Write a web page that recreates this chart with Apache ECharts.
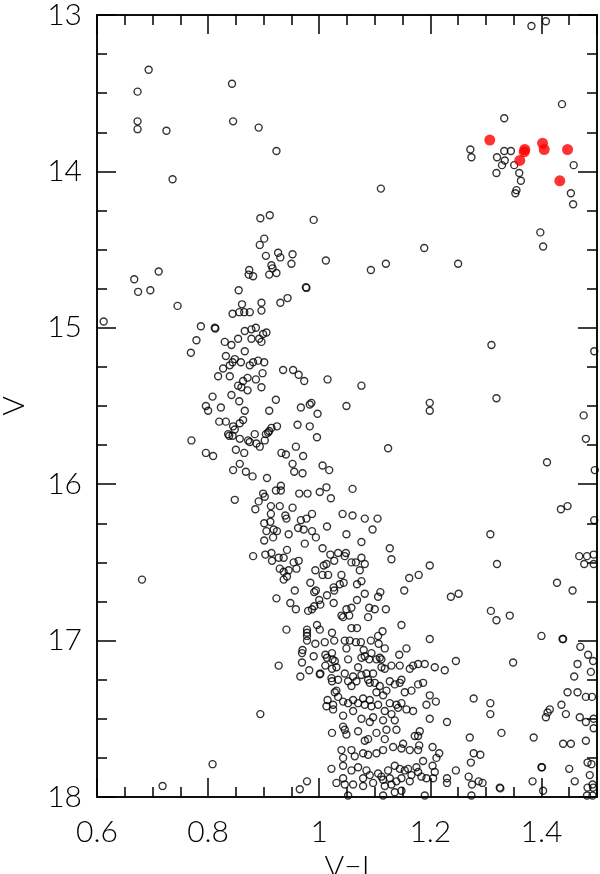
<!DOCTYPE html>
<html><head><meta charset="utf-8">
<script src="https://cdn.jsdelivr.net/npm/echarts@6/dist/echarts.min.js"></script>
<style>html,body{margin:0;padding:0;background:#fff}#c{width:600px;height:874px}</style>
</head><body><div id="c"></div>
<script>
// Open circles: [V-I, V]
const starsTop = [
[0.693,13.35],[0.673,13.49],[0.843,13.44],[0.673,13.68],[0.673,13.73],[0.725,13.74],[0.845,13.68],[0.891,13.72],[0.923,13.87],[0.736,14.05],
[0.894,14.30],[0.911,14.28],[0.990,14.31],[0.901,14.43],[0.893,14.47],[0.904,14.54],[0.926,14.52],[0.930,14.55],[0.952,14.53],[0.950,14.59],
[0.914,14.60],[0.916,14.62],[0.923,14.65],[0.910,14.66],[0.874,14.63],[0.873,14.66],[0.881,14.67],[0.711,14.64],[0.667,14.69],[0.674,14.77],
[0.696,14.76],[0.855,14.76],[0.976,14.74],[0.977,14.745],[0.943,14.81],[0.896,14.84],[0.861,14.85],[0.930,14.84],[0.745,14.86],[0.612,14.96],
[1.111,14.11],[1.012,14.57],[1.093,14.63],[1.120,14.59],[1.189,14.49],[1.250,14.59],
[1.382,13.07],[1.408,13.04],[1.437,13.57],[1.333,13.66],[1.272,13.86],[1.274,13.91],[1.320,13.91],[1.333,13.87],[1.345,13.87],[1.334,13.93],
[1.329,13.96],[1.351,13.96],[1.458,13.96],[1.319,14.01],[1.360,14.01],[1.363,14.06],[1.355,14.12],[1.353,14.14],[1.453,14.14],[1.457,14.21],
[1.398,14.39],[1.403,14.48]
];
const starsRight = [
[1.310,15.11],[1.319,15.45],[1.199,15.48],[1.199,15.53],[1.495,15.15],[1.476,15.56],[1.480,15.71],[1.410,15.86],[1.496,15.91],[1.435,16.16],
[1.447,16.14],[1.308,16.32],[1.495,16.23],[1.468,16.46],[1.482,16.46],[1.494,16.45],
[1.199,16.52],[1.320,16.51],[1.477,16.51],[1.494,16.51],[1.428,16.63],[1.456,16.68],[1.237,16.72],[1.251,16.70],[1.309,16.81],[1.319,16.87],
[1.343,16.84],[1.199,16.99],[1.400,16.97],[1.438,16.99],[1.439,16.99],[1.470,17.04],[1.484,17.09],[1.493,17.13],[1.246,17.13],[1.208,17.17],
[1.226,17.19],[1.349,17.14],[1.465,17.15],[1.489,17.20],[1.459,17.23],[1.199,17.35],[1.210,17.39],[1.278,17.37],[1.308,17.40],[1.308,17.47],
[1.447,17.33],[1.465,17.33],[1.480,17.36],[1.491,17.36],[1.436,17.41],[1.444,17.47],[1.415,17.44],[1.411,17.46],[1.408,17.49],[1.230,17.52],
[1.199,17.50],[1.469,17.49],[1.480,17.52],[1.494,17.50],[1.494,17.56],[1.328,17.59],[1.271,17.62],[1.386,17.62],[1.480,17.64],[1.439,17.66],
[1.453,17.66],[1.204,17.68],[1.216,17.72],[1.211,17.75],[1.204,17.80],[1.208,17.84],[1.205,17.88],[1.278,17.72],[1.290,17.73],[1.273,17.78],
[1.246,17.83],[1.230,17.88],[1.230,17.91],[1.269,17.87],[1.275,17.92],[1.287,17.90],[1.294,17.91],[1.325,17.94],[1.326,17.945],[1.274,17.99],
[1.384,17.90],[1.400,17.81],[1.401,17.81],[1.403,17.96],[1.450,17.82],[1.460,17.90],[1.483,17.78],[1.490,17.79],[1.487,17.86],[1.492,17.92],
[1.483,17.94],[1.493,17.94],[1.482,17.99],[1.492,17.99]
];
const starsLeft = [
[0.681,16.61],[0.894,17.47],[0.808,17.79],[0.718,17.93],[0.965,17.95],[0.978,17.90],[1.023,17.59],[0.927,17.16],[0.885,16.16],[0.848,16.10]
];
const starsGiant = [
[0.856,14.90],[0.865,14.90],[0.875,14.90],[0.844,14.91],[0.896,14.89],[0.787,14.99],[0.812,15.00],[0.813,15.005],[0.779,15.08],[0.769,15.16],
[0.830,15.09],[0.842,15.11],[0.854,15.07],[0.866,15.02],[0.878,15.01],[0.886,15.00],[0.878,15.07],[0.892,15.07],[0.896,15.09],[0.905,15.03],
[0.899,15.04],[0.866,15.15],[0.832,15.18],[0.848,15.20],[0.844,15.22],[0.859,15.22],[0.875,15.24],[0.881,15.22],[0.890,15.21],[0.901,15.22],
[0.827,15.26],[0.839,15.24],[0.818,15.31],[0.839,15.31],[0.898,15.29],[0.886,15.33],[0.871,15.32],[0.863,15.34],[0.854,15.37],[0.860,15.38],
[0.871,15.40],[0.896,15.38],[0.935,15.27],[0.953,15.27],[0.963,15.30],[0.973,15.34],[0.808,15.44],[0.796,15.50],[0.800,15.53],[0.823,15.51],
[0.842,15.43],[0.856,15.47],[0.866,15.53],[0.922,15.46],[0.910,15.53],[0.967,15.51],[0.983,15.49],[0.820,15.60],[0.832,15.60],[0.845,15.63],
[0.857,15.61],[0.863,15.59],[0.848,15.65],[0.838,15.69],[0.844,15.69],[0.836,15.68],[0.770,15.72],[0.857,15.71],[0.872,15.72],[0.875,15.73],
[0.884,15.68],[0.887,15.74],[0.893,15.76],[0.902,15.72],[0.908,15.67],[0.914,15.64],[0.924,15.63],[0.904,15.68],[0.961,15.62],[0.983,15.63],
[0.796,15.80],[0.809,15.82],[0.850,15.78],[0.865,15.80],[0.857,15.87],[0.845,15.91],[0.868,15.92],[0.880,15.95],[0.906,15.96],[0.932,15.80],
[0.940,15.81],[0.958,15.76],[0.971,15.82],[0.952,15.87],[0.955,15.92],[0.970,15.93],[0.922,16.04],[0.931,16.01],[0.931,16.04],[0.899,16.06],
[0.902,16.08],[0.964,16.06],[0.979,16.06],
[1.015,15.33],[1.076,15.37],[0.986,15.48],[0.997,15.55],[1.049,15.50],[0.996,15.70],[0.910,15.66],[1.006,15.88],[1.018,15.91],[1.124,15.77],
[1.001,16.05],[1.013,16.02],[1.021,16.09],[1.060,16.03]
];
const starsTurnoff = [
[0.891,16.11],[0.913,16.14],[0.929,16.14],[0.952,16.15],[0.913,16.19],[0.939,16.20],[0.941,16.22],[0.987,16.19],[0.977,16.22],[0.967,16.23],
[0.901,16.25],[0.912,16.24],[0.905,16.30],[0.918,16.29],[0.924,16.30],[0.917,16.34],[0.945,16.32],[0.962,16.28],[0.972,16.29],[0.987,16.30],
[0.994,16.34],[1.014,16.27],[0.901,16.36],[0.942,16.42],[0.974,16.38],[0.881,16.46],[0.903,16.45],[0.914,16.44],[0.915,16.49],[0.927,16.47],
[0.936,16.47],[0.954,16.50],[0.963,16.49],[1.006,16.41],[1.020,16.45],[1.027,16.49],[0.929,16.54],[0.936,16.56],[0.945,16.55],[0.959,16.54],
[0.942,16.59],[0.936,16.61],[0.993,16.55],[1.008,16.52],[1.013,16.51],[1.006,16.58],[1.016,16.58],[0.984,16.63],[0.994,16.68],[0.991,16.69],
[0.956,16.68],[1.026,16.66],[1.027,16.68],[0.923,16.73],[0.948,16.76],[0.958,16.80],[1.000,16.74],[1.014,16.71],[1.002,16.77],[0.991,16.78],
[1.026,16.76],[0.980,16.81],[0.987,16.80],[0.941,16.93],[0.978,16.93],[0.978,16.95],[0.978,16.97],[0.978,17.00],[0.996,16.90],[1.001,16.93],
[0.993,17.02],[1.010,17.01],[1.023,16.95],[1.027,17.00],[0.970,17.06],[0.969,17.08],[0.969,17.14],[0.982,17.19],[0.966,17.23],[0.990,17.10],
[1.011,17.09],[1.014,17.11],[1.023,17.08],[1.024,17.12],[1.011,17.16],[1.023,17.18],[1.002,17.21],[1.001,17.215],[1.022,17.24],[1.023,17.26],
[1.031,17.32],[1.015,17.38],[1.013,17.42],[1.025,17.41],[1.025,17.44],
[1.042,16.19],[1.060,16.20],[1.082,16.22],[1.105,16.22],[1.096,16.29],[1.049,16.32],[1.076,16.37],[1.034,16.44],[1.048,16.44],[1.046,16.46],
[1.058,16.50],[1.066,16.50],[1.076,16.47],[1.082,16.51],[1.127,16.41],[1.130,16.48]
];
const starsMS = [
[1.073,16.55],[1.179,16.58],[1.162,16.60],[1.153,16.68],[1.040,16.58],[1.037,16.64],[1.044,16.63],[1.076,16.62],[1.068,16.64],[1.082,16.70],
[1.106,16.72],[1.110,16.69],[1.120,16.80],[1.100,16.80],[1.090,16.79],[1.049,16.80],[1.058,16.79],[1.040,16.84],[1.043,16.85],[1.054,16.84],
[1.088,16.85],[1.068,16.74],[1.058,16.92],[1.068,16.92],[1.055,17.00],[1.046,17.00],[1.066,17.01],[1.075,17.01],[1.093,17.00],[1.107,17.02],
[1.114,16.94],[1.106,16.97],[1.148,16.90],[1.157,17.05],[1.144,17.09],[1.118,17.05],[1.109,17.11],[1.112,17.12],[1.049,17.05],[1.080,17.06],
[1.094,17.08],[1.082,17.10],[1.090,17.12],[1.103,17.12],[1.076,17.11],[1.145,17.16],[1.169,17.16],[1.178,17.15],[1.190,17.15],[1.031,17.17],
[1.070,17.17],[1.112,17.17],[1.052,17.12],[1.028,17.13],[1.130,17.16],[1.163,17.18],[1.118,17.18],
[1.034,17.25],[1.046,17.21],[1.052,17.26],[1.061,17.23],[1.067,17.26],[1.058,17.29],[1.076,17.22],[1.085,17.21],[1.088,17.25],[1.097,17.21],
[1.091,17.27],[1.100,17.27],[1.109,17.29],[1.103,17.33],[1.115,17.35],[1.121,17.32],[1.127,17.26],[1.136,17.28],[1.145,17.27],[1.148,17.25],
[1.154,17.33],[1.166,17.32],[1.178,17.28],[1.187,17.27],[1.193,17.41],[1.028,17.33],[1.034,17.36],[1.043,17.39],[1.052,17.40],[1.061,17.38],
[1.070,17.40],[1.082,17.41],[1.079,17.37],[1.091,17.38],[1.094,17.42],[1.106,17.41],[1.127,17.40],[1.139,17.41],[1.148,17.40],[1.142,17.43],
[1.157,17.44],[1.169,17.45],[1.130,17.47],[1.118,17.45],[1.136,17.51],[1.115,17.51],[1.097,17.49],[1.076,17.50],[1.091,17.52],[1.061,17.45],
[1.043,17.48],[1.043,17.55],[1.046,17.57],[1.049,17.60],[1.070,17.58],[1.082,17.64],[1.088,17.63],[1.103,17.59],[1.118,17.63],[1.121,17.57],
[1.139,17.57],[1.151,17.66],[1.172,17.61],[1.178,17.61],[1.181,17.58],[1.180,17.67],[1.178,17.70],[1.163,17.70],[1.148,17.69],[1.133,17.68],
[1.115,17.70],[1.103,17.72],[1.088,17.73],[1.079,17.72],[1.064,17.74],[1.043,17.75],[1.040,17.70],[1.058,17.70],[1.022,17.82],[1.043,17.80],
[1.058,17.83],[1.070,17.81],[1.085,17.83],[1.091,17.86],[1.106,17.85],[1.112,17.87],[1.115,17.89],[1.124,17.83],[1.136,17.80],[1.145,17.82],
[1.154,17.83],[1.160,17.82],[1.166,17.86],[1.175,17.81],[1.178,17.84],[1.187,17.77],[1.193,17.88],[1.184,17.87],[1.163,17.90],[1.148,17.88],
[1.139,17.90],[1.130,17.92],[1.118,17.93],[1.097,17.91],[1.079,17.93],[1.061,17.92],[1.046,17.92],[1.043,17.88],[1.031,17.91],[1.079,17.88],
[1.127,17.88],[1.052,17.99],[1.115,17.99],[1.136,17.97],[1.148,17.96],[1.190,17.99]
];
// Red filled stars
const redStars = [
[1.307,13.80],[1.370,13.86],[1.369,13.875],[1.361,13.93],[1.402,13.82],[1.405,13.86],[1.447,13.86],[1.433,14.06]
];
const xTickLabels = ['0.6','0.8','1','1.2','1.4'];
const yTickLabels = ['13','14','15','16','17','18'];

const openStars = [].concat(starsTop, starsRight, starsLeft, starsGiant, starsTurnoff, starsMS);

const FONT = 'Lato, "Liberation Sans", sans-serif';
const FW = 300;
function xAx(pos, interval, len, labels, extra){
  return Object.assign({
    type:'value', min:0.6, max:1.5, interval:interval, position:pos,
    axisLine:{show:true, onZero:false, lineStyle:{color:'#000', width:1.5}},
    axisTick:{show:true, inside:true, length:len, lineStyle:{color:'#000', width:1.5}},
    axisLabel:{show:labels, showMaxLabel:false, margin:20, color:'#000', fontFamily:FONT, fontWeight:FW, fontSize:30,
      formatter: v => { const s = String(Math.round(v*100)/100); return xTickLabels.indexOf(s) >= 0 ? s : ''; }},
    splitLine:{show:false}
  }, extra||{});
}
function yAx(pos, interval, len, labels, extra){
  return Object.assign({
    type:'value', min:13, max:18, interval:interval, inverse:true, position:pos,
    axisLine:{show:true, onZero:false, lineStyle:{color:'#000', width:1.5}},
    axisTick:{show:true, inside:true, length:len, lineStyle:{color:'#000', width:1.5}},
    axisLabel:{show:labels, margin:15, color:'#000', fontFamily:FONT, fontWeight:FW, fontSize:30,
      formatter: v => { const s = String(Math.round(v)); return yTickLabels.indexOf(s) >= 0 ? s : ''; }},
    splitLine:{show:false}
  }, extra||{});
}

const chart = echarts.init(document.getElementById('c'), null, {renderer:'canvas'});
chart.setOption({
  animation:false,
  backgroundColor:'#fff',
  grid:{left:97, right:3, top:15, bottom:77, containLabel:false, outerBoundsMode:'none'},
  xAxis:[
    xAx('bottom', 0.2, 19, true, {name:'V\u2212I', nameLocation:'middle', nameGap:48,
      nameTextStyle:{color:'#000', fontFamily:FONT, fontWeight:FW, fontSize:30}}),
    xAx('bottom', 0.05, 10, false),
    xAx('top', 0.2, 19, false),
    xAx('top', 0.05, 10, false)
  ],
  yAxis:[
    yAx('left', 1, 19, true, {name:'V', nameLocation:'middle', nameGap:68, nameRotate:90,
      nameTextStyle:{color:'#000', fontFamily:FONT, fontWeight:FW, fontSize:30}}),
    yAx('left', 0.25, 10, false),
    yAx('right', 1, 19, false),
    yAx('right', 0.25, 10, false)
  ],
  series:[
    {type:'scatter', xAxisIndex:0, yAxisIndex:0, data:openStars, symbol:'circle', symbolSize:7,
      itemStyle:{color:'rgba(0,0,0,0)', borderColor:'#000', borderWidth:1.4}, silent:true, z:2},
    {type:'scatter', xAxisIndex:0, yAxisIndex:0, data:redStars, symbol:'circle', symbolSize:11,
      itemStyle:{color:'#ff0000', borderWidth:0}, silent:true, z:3}
  ]
});
</script>
</body></html>
